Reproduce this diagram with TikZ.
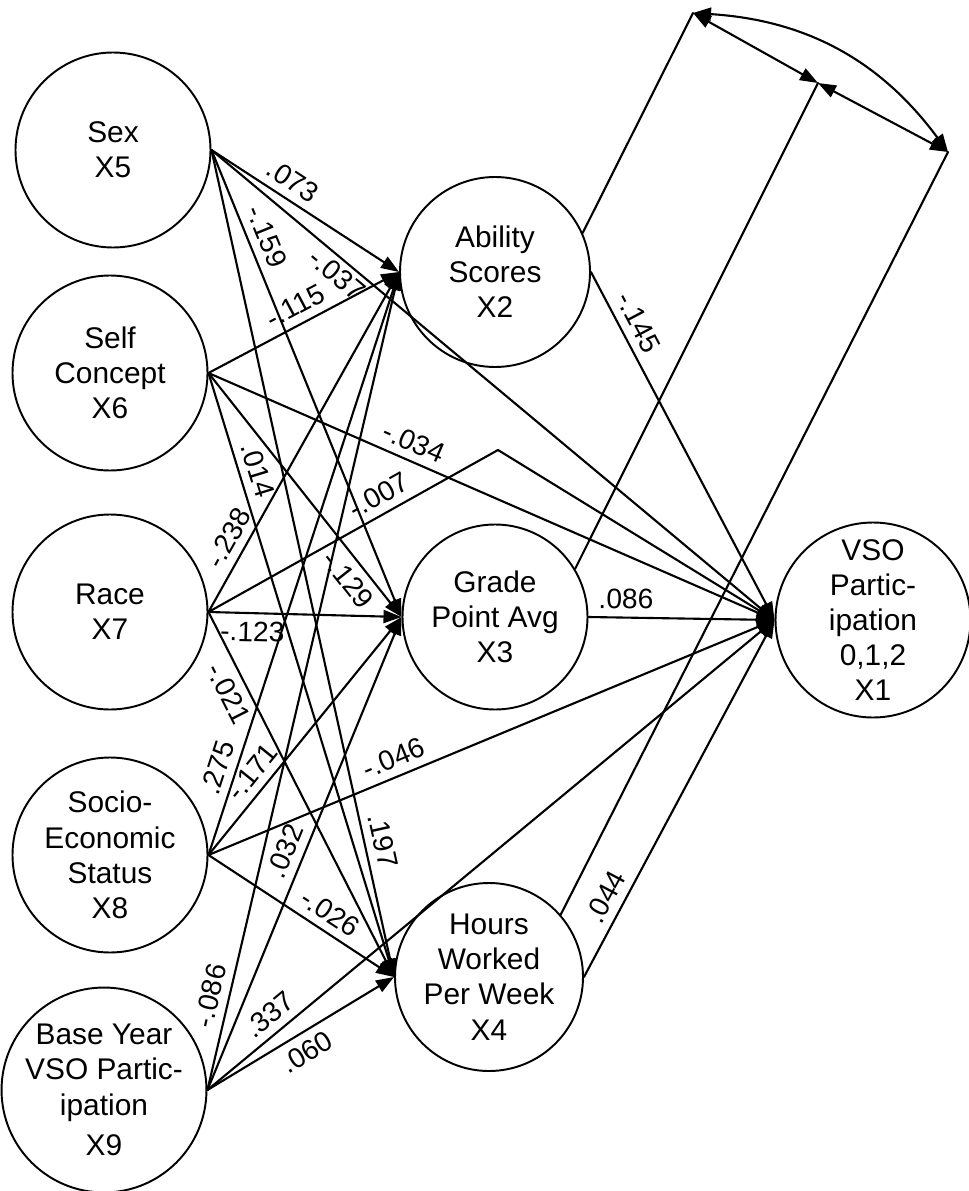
\documentclass[tikz,border=0pt]{standalone}
\usepackage{fontspec}
\setmainfont{Liberation Sans}
\usetikzlibrary{arrows.meta}
\begin{document}
\begin{tikzpicture}[>={Triangle[length=3.6mm,width=2.6mm]}, line join=round, line cap=round,
	var/.style={draw, circle, line width=1.1pt, minimum size=3.9cm, inner sep=0pt, align=center, font=\fontsize{17}{20}\selectfont},
	effect/.style={->, line width=1.2pt},
	cov/.style={<->, line width=1.2pt},
	coef/.style={font=\fontsize{16}{16}\selectfont, sloped, inner sep=1pt, outer sep=4pt}]
	\useasboundingbox (0,0) rectangle (19.38,-23.82);
	% exogene Variablen
	\node[var] (x5) at (2.26,-3.0) {Sex\\X5};
	\node[var] (x6) at (2.2,-7.46) {Self\\Concept\\X6};
	\node[var] (x7) at (2.2,-12.24) {Race\\X7};
	\node[var] (x8) at (2.2,-17.1) {Socio-\\Economic\\Status\\X8};
	\node[var, minimum size=3.85cm] (x9) at (2.08,-21.8) {Base Year\\VSO Partic-\\ipation\\[3pt]X9};
	% Zwischenvariablen
	\node[var, minimum size=3.8cm] (x2) at (9.9,-5.44) {Ability\\Scores\\X2};
	\node[var, minimum size=3.7cm] (x3) at (9.9,-12.34) {Grade\\Point Avg\\X3};
	\node[var, minimum size=3.76cm] (x4) at (9.78,-19.54) {Hours\\Worked\\Per Week\\X4};
	\node[var] (x1) at (17.46,-12.4) {VSO\\Partic-\\ipation\\0,1,2\\X1};
	\coordinate (p1) at (13.86,-0.26);
	\coordinate (p2) at (16.36,-1.66);
	\coordinate (p3) at (18.96,-3.04);
	\coordinate (bend) at (9.96,-9.0);
	% Sex
	\draw[effect] (x5.east) -- node[coef,pos=.38,above]{.073} (x2.west);
	\draw[effect] (x5.east) -- node[coef,pos=.24,below,outer sep=2pt]{-.037} (x1.west);
	\draw[effect] (x5.east) -- node[coef,pos=.2,above]{-.159} (x3.west);
	\draw[effect] (x5.east) -- node[coef,pos=.84,above]{.197} (x4.west);
	% Self Concept
	\draw[effect] (x6.east) -- node[coef,pos=.5,above]{-.115} (x2.west);
	\draw[effect] (x6.east) -- node[coef,pos=.8,below]{-.129} (x3.west);
	\draw[effect] (x6.east) -- node[coef,pos=.17,above]{.014} (x4.west);
	\draw[effect] (x6.east) -- node[coef,pos=.35,above]{-.034} (x1.west);
	% Race
	\draw[effect] (x7.east) -- node[coef,pos=.19,above]{-.238} (x2.west);
	\draw[effect] (x7.east) -- node[coef,pos=.23,below]{-.123} (x3.west);
	\draw[effect] (x7.east) -- node[coef,pos=.2,below]{-.021} (x4.west);
	\draw[effect] (x7.east) -- node[coef,pos=.62,above]{-.007} (bend) -- (x1.west);
	% SES
	\draw[effect] (x8.east) -- node[coef,pos=.14,above]{.275} (x2.west);
	\draw[effect] (x8.east) -- node[coef,pos=.3,above]{-.171} (x3.west);
	\draw[effect] (x8.east) -- node[coef,pos=.6,above]{-.026} (x4.west);
	\draw[effect] (x8.east) -- node[coef,pos=.34,above]{-.046} (x1.west);
	% Base Year
	\draw[effect] (x9.east) -- node[coef,pos=.11,above]{-.086} (x2.west);
	\draw[effect] (x9.east) -- node[coef,pos=.49,above]{.032} (x3.west);
	\draw[effect] (x9.east) -- node[coef,pos=.48,below]{.060} (x4.west);
	\draw[effect] (x9.east) -- node[coef,pos=.13,above]{.337} (x1.west);
	% auf X1
	\draw[effect] (x2.east) -- node[coef,pos=.17,above]{-.145} (x1.west);
	\draw[effect] (x3.east) -- node[coef,pos=.2,above]{.086} (x1.west);
	\draw[effect] (x4.east) -- node[coef,pos=.2,above]{.044} (x1.west);
	% Kovarianzen
	\draw[line width=1.2pt] (x2.24) -- (p1);
	\draw[line width=1.2pt] (x3.31) -- (p2);
	\draw[line width=1.2pt] (x4.41) -- (p3);
	\draw[cov] (p1) -- (p2);
	\draw[cov] (p2) -- (p3);
	\draw[cov] (p1) to[bend left=25] (p3);
\end{tikzpicture}
\end{document}
